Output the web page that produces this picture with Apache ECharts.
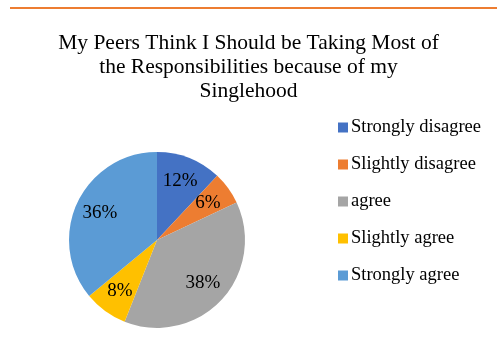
<!DOCTYPE html>
<html>
<head>
<meta charset="utf-8">
<script src="https://cdn.jsdelivr.net/npm/echarts@6/dist/echarts.min.js"></script>
<style>
  html, body { margin: 0; padding: 0; background: #fff; }
  #chart { width: 497px; height: 348px; }
</style>
</head>
<body>
<div id="chart"></div>
<script>
// chart data
const categories = ["Strongly disagree", "Slightly disagree", "agree", "Slightly agree", "Strongly agree"];
const shares = [12, 6, 38, 8, 36];
const colors = ["#4472C4", "#ED7D31", "#A5A5A5", "#FFC000", "#5B9BD5"];
const titleText = "My Peers Think I Should be Taking Most of\nthe Responsibilities because of my\nSinglehood";

const font = "Liberation Serif";
const pieData = categories.map((name, i) => ({ name: name, value: shares[i] }));

const chart = echarts.init(document.getElementById("chart"));
chart.setOption({
  animation: false,
  color: colors,
  title: {
    text: titleText,
    left: "center",
    top: 26,
    textStyle: {
      fontFamily: font,
      fontWeight: "normal",
      fontSize: 21.5,
      lineHeight: 24,
      color: "#000",
    },
  },
  graphic: [
    {
      type: "line",
      shape: { x1: 10, y1: 8, x2: 497, y2: 8 },
      style: { stroke: "#ED7D31", lineWidth: 2 },
    },
  ],
  legend: {
    orient: "vertical",
    left: 333,
    top: 113,
    itemWidth: 10,
    itemHeight: 10,
    itemGap: 18,
    icon: "rect",
    textStyle: { fontFamily: font, fontSize: 18.5, color: "#000", padding: [0, 0, 0, -2] },
    data: categories,
  },
  series: [
    {
      type: "pie",
      center: [157, 240],
      radius: 88,
      startAngle: 90,
      clockwise: true,
      label: { show: false },
      labelLine: { show: false },
      emphasis: { disabled: true },
      data: pieData,
    },
    {
      // label carrier so the percentages sit further out than the default
      type: "pie",
      center: [157, 240],
      radius: [32, 88],
      startAngle: 90,
      clockwise: true,
      silent: true,
      itemStyle: { color: "transparent" },
      label: {
        show: true,
        position: "inside",
        formatter: "{c}%",
        fontFamily: font,
        fontSize: 19,
        color: "#000",
      },
      labelLine: { show: false },
      emphasis: { disabled: true },
      data: pieData,
    },
  ],
});
</script>
</body>
</html>
